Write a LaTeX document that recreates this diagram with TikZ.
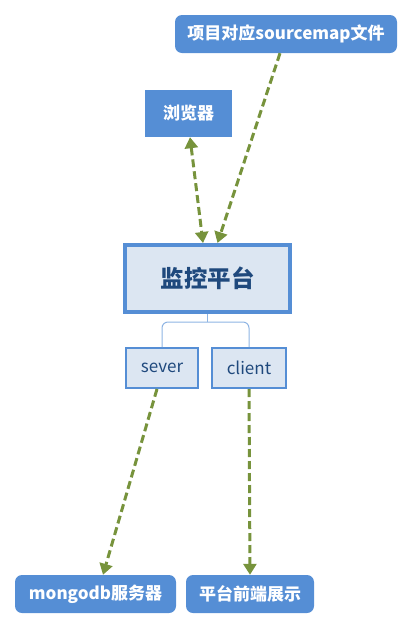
\documentclass[tikz,border=0pt]{standalone}
\usepackage{fontspec}
\setmainfont{Noto Sans CJK SC}
\usetikzlibrary{arrows.meta}

\definecolor{boxblue}{HTML}{558ED5}
\definecolor{paleblue}{HTML}{DCE6F2}
\definecolor{darkblue}{HTML}{1F497D}
\definecolor{linkgreen}{HTML}{77933C}
\definecolor{treeblue}{HTML}{8EB4E3}

\begin{document}
\begin{tikzpicture}[x=1pt,y=-1pt,
  tagbox/.style={fill=boxblue, text=white, inner sep=0pt,
    font=\bfseries\fontsize{17}{19}\selectfont},
  subbox/.style={fill=paleblue, draw=boxblue, line width=2pt, text=darkblue,
    inner sep=0pt, minimum height=40pt, font=\fontsize{17}{19}\selectfont},
  link/.style={draw=linkgreen, line width=3pt, dash pattern=on 8pt off 4pt,
    -{Triangle[length=11pt,width=13pt]}}]
  \useasboundingbox (0,0) rectangle (414,630);

  \node[tagbox, rounded corners=7pt, minimum width=222pt, minimum height=38pt]
    (src) at (286,34) {项目对应sourcemap文件};
  \node[tagbox, minimum width=87pt, minimum height=47pt]
    (browser) at (188.5,113.5) {浏览器};

  \node[fill=paleblue, draw=boxblue, line width=4pt, text=darkblue, inner sep=0pt,
    minimum width=165pt, minimum height=67pt,
    font=\bfseries\fontsize{23.5}{26}\selectfont] (main) at (207.5,278.5) {监控平台};

  \node[subbox, minimum width=72pt] (sever) at (162,368) {sever};
  \node[subbox, minimum width=74pt] (client) at (249,368) {client};

  \node[tagbox, rounded corners=7pt, minimum width=161pt, minimum height=38pt]
    (mongo) at (95.5,594) {mongodb服务器};
  \node[tagbox, rounded corners=7pt, minimum width=128pt, minimum height=38pt]
    (front) at (250,594) {平台前端展示};

  % tree under the main box
  \coordinate (fork) at (207.5,322);
  \draw[treeblue, line width=1pt] (main.south) -- (fork);
  \draw[treeblue, line width=1pt, rounded corners=6pt] (sever.north) |- (fork) -| (client.north);

  % dashed links
  \draw[link] ([xshift=-6pt]src.south) -- ([xshift=10pt]main.north);
  \draw[link, {Triangle[length=11pt,width=13pt]}-{Triangle[length=11pt,width=13pt]}]
    ([xshift=1.5pt]browser.south) -- ([xshift=-4.5pt]main.north);
  \draw[link] ([xshift=-5pt]sever.south) -- ([xshift=7.5pt]mongo.north);
  \draw[link] (client.south) -- (front.north);
\end{tikzpicture}
\end{document}
